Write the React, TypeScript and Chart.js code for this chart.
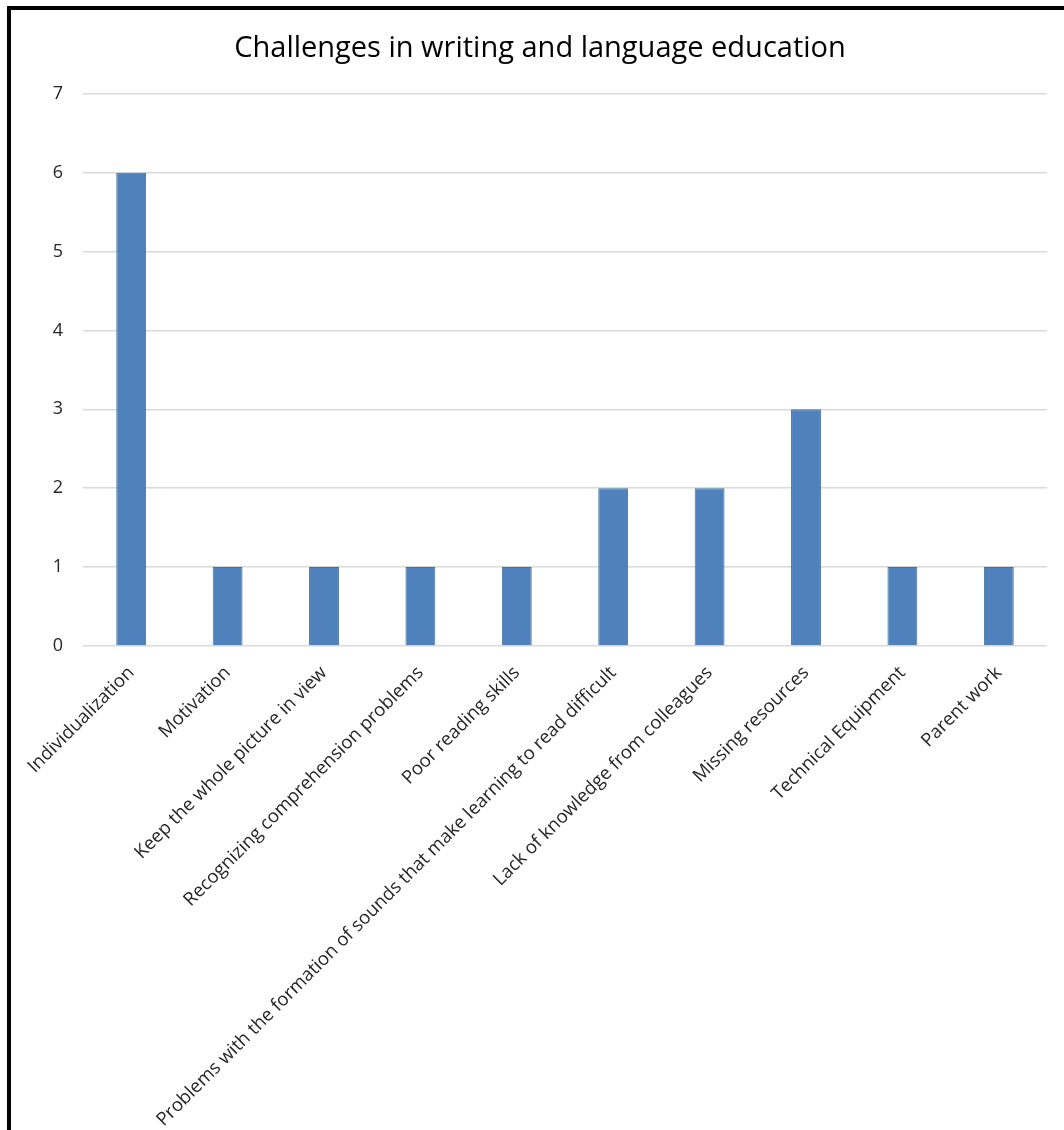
import React, { useEffect, useRef } from "react";
import { Chart, registerables } from "chart.js";

Chart.register(...registerables);

const titleText = "Challenges in writing and language education";

const categories = [
  "Individualization",
  "Motivation",
  "Keep the whole picture in view",
  "Recognizing comprehension problems",
  "Poor reading skills",
  "Problems with the formation of sounds that make learning to read difficult",
  "Lack of knowledge from colleagues",
  "Missing resources",
  "Technical Equipment",
  "Parent work",
];

const values = [6, 1, 1, 1, 1, 2, 2, 3, 1, 1];

const yMin = 0;
const yMax = 7;
const yStep = 1;

const FONT = "'Open Sans', 'Noto Sans', sans-serif";

export default function App() {
  const canvasRef = useRef<HTMLCanvasElement | null>(null);

  useEffect(() => {
    const canvas = canvasRef.current;
    if (!canvas) return;
    const chart = new Chart(canvas, {
      type: "bar",
      data: {
        labels: categories,
        datasets: [
          {
            label: "Count",
            data: values,
            backgroundColor: "#4F81BD",
            borderColor: "#41719C",
            borderWidth: 1,
            barPercentage: 0.31,
            categoryPercentage: 1,
          },
        ],
      },
      options: {
        responsive: false,
        animation: false,
        devicePixelRatio: 1,
        layout: { padding: { left: 33, right: 17, top: 0, bottom: 0 } },
        plugins: {
          legend: { display: false },
          tooltip: { enabled: false },
          title: {
            display: true,
            text: titleText,
            color: "#000000",
            font: { family: FONT, size: 29, weight: "normal" },
            padding: { top: 31, bottom: 28 },
          },
        },
        scales: {
          x: {
            grid: { display: false },
            border: { display: false },
            ticks: {
              color: "#262626",
              font: { family: FONT, size: 18.5 },
              maxRotation: 45,
              minRotation: 45,
              autoSkip: false,
              padding: 8,
            },
            afterFit: (scale: any) => {
              scale.height = 484;
            },
          },
          y: {
            min: yMin,
            max: yMax,
            grid: { color: "#d9d9d9", lineWidth: 1.5, drawTicks: false },
            border: { display: false },
            ticks: {
              stepSize: yStep,
              color: "#262626",
              font: { family: FONT, size: 18 },
              padding: 20,
            },
            afterFit: (scale: any) => {
              scale.width = 50;
            },
          },
        },
      },
    });
    return () => chart.destroy();
  }, []);

  return (
    <div
      style={{
        position: "absolute",
        left: 0,
        top: 0,
        width: 1064,
        height: 1130,
        background: "#ffffff",
        overflow: "hidden",
      }}
    >
      <canvas ref={canvasRef} width={1064} height={1130} style={{ display: "block" }} />
      <div
        style={{
          position: "absolute",
          left: 7,
          top: 6,
          width: 1100,
          height: 1200,
          borderLeft: "4px solid #000",
          borderTop: "4px solid #000",
          pointerEvents: "none",
        }}
      />
    </div>
  );
}
